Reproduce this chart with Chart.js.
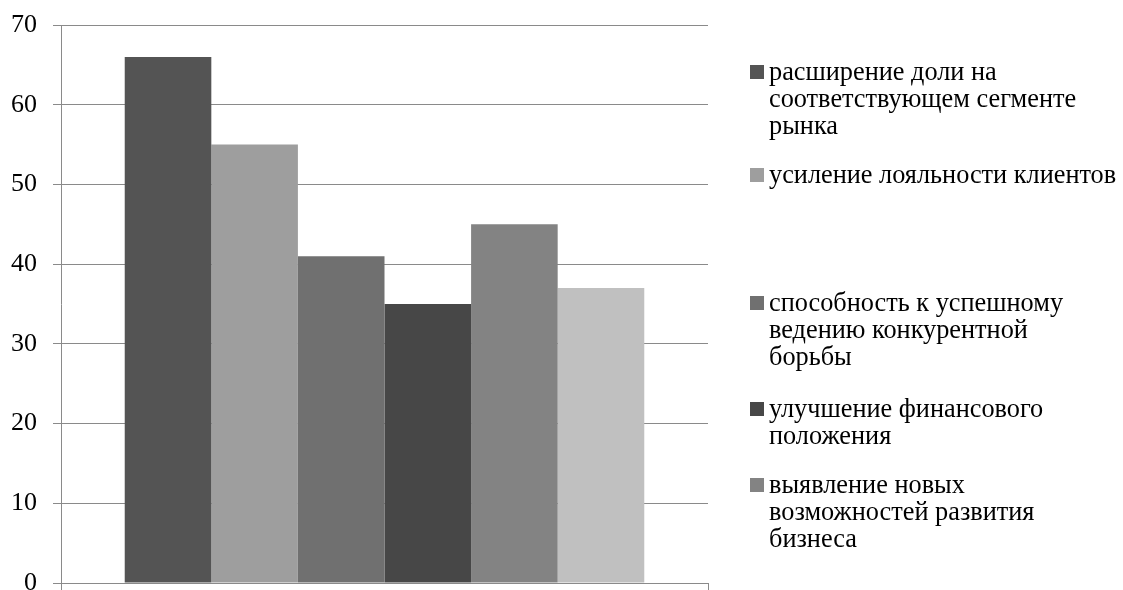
<!DOCTYPE html>
<html>
<head>
<meta charset="utf-8">
<script src="https://cdn.jsdelivr.net/npm/chart.js@4/dist/chart.umd.min.js"></script>
<style>
  html, body { margin: 0; padding: 0; background: #ffffff; }
  #wrap { width: 1123px; height: 590px; position: relative; }
</style>
</head>
<body>
<div id="wrap"><canvas id="c" width="1123" height="590"></canvas></div>
<script>
// Single category, one bar per series
const categories = [''];
const seriesNames = [
  'расширение доли на\nсоответствующем сегменте\nрынка',
  'усиление лояльности клиентов',
  'способность к успешному\nведению конкурентной\nборьбы',
  'улучшение финансового\nположения',
  'выявление новых\nвозможностей развития\nбизнеса',
  ''
];
const seriesValues = [66, 55, 41, 35, 45, 37];
const seriesColors = ['#545454', '#9e9e9e', '#707070', '#474747', '#838383', '#c0c0c0'];
const yTicks = [0, 10, 20, 30, 40, 50, 60, 70];

const FONT = "'Times New Roman', 'Liberation Serif', 'DejaVu Serif', serif";
const GRID = '#8a8a8a';

// Vertical placement of each legend entry (first line centre)
const legendRows = [73, 176, 304, 410, 486];

const sideLegend = {
  id: 'sideLegend',
  afterDraw(chart) {
    const ctx = chart.ctx;
    ctx.save();
    ctx.font = '26.3px ' + FONT;
    ctx.textBaseline = 'middle';
    ctx.textAlign = 'left';
    let row = 0;
    chart.data.datasets.forEach(ds => {
      if (!ds.label) return;
      const y0 = legendRows[row++];
      ctx.fillStyle = ds.backgroundColor;
      ctx.fillRect(750, y0 - 8, 14, 14);
      ctx.fillStyle = '#000000';
      ds.label.split('\n').forEach((line, i) => {
        ctx.fillText(line, 769, y0 + i * 27);
      });
    });
    ctx.restore();
  }
};

new Chart(document.getElementById('c'), {
  type: 'bar',
  data: {
    labels: categories,
    datasets: seriesValues.map((v, i) => ({
      label: seriesNames[i],
      data: [v],
      backgroundColor: seriesColors[i],
      borderWidth: 0
    }))
  },
  options: {
    responsive: false,
    animation: false,
    events: [],
    layout: { padding: { top: 25, right: 415, bottom: 0, left: 0 } },
    datasets: { bar: { categoryPercentage: 0.803, barPercentage: 1.0 } },
    plugins: { legend: { display: false }, tooltip: { enabled: false } },
    scales: {
      x: {
        offset: true,
        afterFit(scale) { scale.height = 7; scale.paddingLeft = 0; scale.paddingRight = 0; },
        grid: { display: true, drawOnChartArea: false, drawTicks: true, tickLength: 7, color: GRID, lineWidth: 1 },
        border: { display: true, color: GRID, width: 1 },
        ticks: { display: false }
      },
      y: {
        min: 0,
        max: 70,
        afterBuildTicks(scale) { scale.ticks = yTicks.map(v => ({ value: v })); },
        afterFit(scale) { scale.width = 61; scale.paddingTop = 0; scale.paddingBottom = 0; },
        grid: { color: GRID, lineWidth: 1, tickLength: 8, drawTicks: true },
        border: { display: true, color: GRID, width: 1 },
        ticks: { color: '#000000', padding: 16, font: { family: FONT, size: 26 } }
      }
    }
  },
  plugins: [sideLegend]
});
</script>
</body>
</html>
